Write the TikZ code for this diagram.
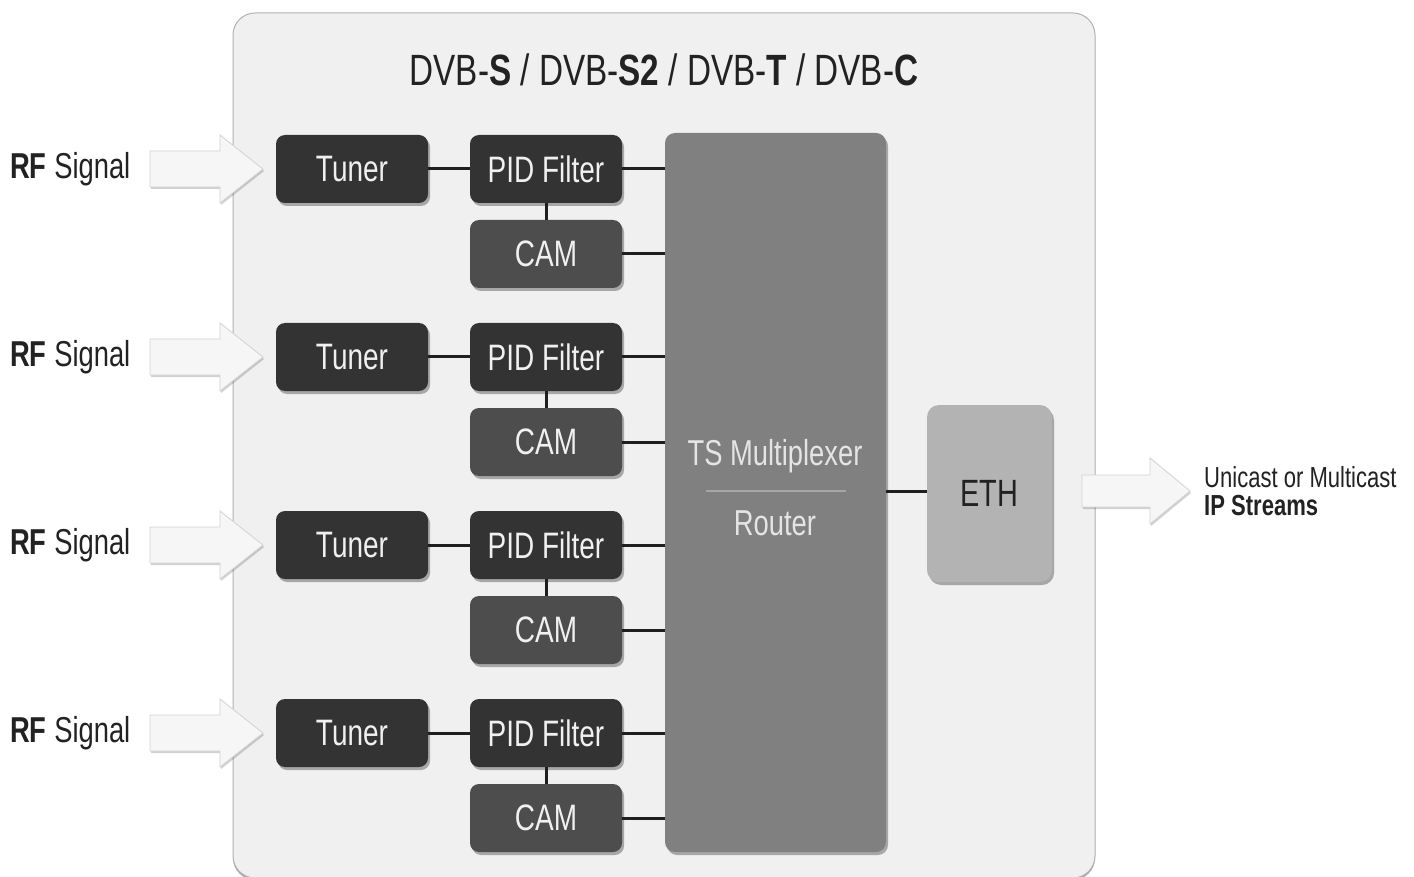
\documentclass[tikz,border=0pt]{standalone}
\usepackage{fontspec}
\setmainfont{Liberation Sans}[FakeStretch=0.76]
\usetikzlibrary{shadows}
\definecolor{panelbg}{HTML}{F0F0F0}
\definecolor{darkbox}{HTML}{333333}
\definecolor{cambox}{HTML}{4D4D4D}
\definecolor{muxbox}{HTML}{808080}
\definecolor{ethbox}{HTML}{B3B3B3}
\definecolor{boxtext}{HTML}{F0F0F0}
\definecolor{muxtextc}{HTML}{E4E4E4}
\definecolor{arrowfill}{HTML}{F6F6F6}
\definecolor{arrowline}{HTML}{D2D2D2}
\definecolor{labeltext}{HTML}{222222}
\tikzset{
  softshadow/.style={drop shadow={shadow xshift=2pt,shadow yshift=-3pt,opacity=0.30,fill=black}},
  darknode/.style={rectangle,rounded corners=9pt,fill=darkbox,text=boxtext,
    minimum width=152pt,minimum height=68pt,inner sep=0pt,softshadow,
    font=\fontsize{36.8}{42}\selectfont},
  camnode/.style={darknode,fill=cambox},
  muxnode/.style={rectangle,rounded corners=10pt,fill=muxbox,minimum width=221pt,
    minimum height=719pt,inner sep=0pt,softshadow},
  ethnode/.style={rectangle,rounded corners=12pt,fill=ethbox,text=labeltext,
    minimum width=125pt,minimum height=177pt,inner sep=0pt,softshadow,
    font=\fontsize{38}{42}\selectfont},
  conn/.style={line width=3pt,draw=black!88},
  blockarrow/.style={fill=arrowfill,draw=arrowline,line width=0.8pt,
    drop shadow={shadow xshift=1pt,shadow yshift=-2pt,opacity=0.18,fill=black}},
  rflabel/.style={anchor=west,text=labeltext,inner sep=0pt,font=\fontsize{36}{42}\selectfont},
  muxtext/.style={text=muxtextc,inner sep=0pt,font=\fontsize{36}{42}\selectfont}
}
\begin{document}
\begin{tikzpicture}[x=1pt,y=-1pt]
\useasboundingbox (0,0) rectangle (1414,877);
\fill[white] (0,0) rectangle (1414,877);
% outer panel
\path[fill=panelbg,draw=black!30,line width=1pt,rounded corners=22pt,
  drop shadow={shadow xshift=0pt,shadow yshift=-2pt,opacity=0.35,fill=black}]
  (233,13) rectangle (1095,878);
\node[text=labeltext,inner sep=0pt,font=\fontsize{43.8}{48}\selectfont] (title) at (664,70)
  {DVB-\textbf{S} / DVB-\textbf{S2} / DVB-\textbf{T} / DVB-\textbf{C}};
% multiplexer
\node[muxnode] (mux) at (775.5,492.5) {};
\node[muxtext] (muxa) at (775,456) {TS Multiplexer};
\node[muxtext] (muxb) at (775,523) {Router};
\draw[line width=2pt,draw=black!35] (706,491) -- (846,491);
% eth
\node[ethnode] (eth) at (989.5,493.5) {ETH};
\draw[conn] (mux.east |- 0,491) -- (eth.west |- 0,491);
% rows
\foreach \i/\y in {1/169,2/357,3/545,4/733}{
  \node[darknode] (tuner\i) at (352,\y) {Tuner};
  \node[darknode] (pid\i) at (546,\y) {PID Filter};
  \node[camnode] (cam\i) at (546,\y+85) {CAM};
  \draw[conn] (tuner\i.east) -- (pid\i.west);
  \draw[conn] (pid\i.south) -- (cam\i.north);
  \draw[conn] (pid\i.east) -- (pid\i.east -| mux.west);
  \draw[conn] (cam\i.east) -- (cam\i.east -| mux.west);
  \path[blockarrow] (150,\y-18) -- (220,\y-18) -- (220,\y-34) -- (263,\y) --
    (220,\y+34) -- (220,\y+18) -- (150,\y+18) -- cycle;
  \node[rflabel] (rf\i) at (10,\y) {\textbf{RF} Signal};
}
% output arrow
\path[blockarrow] (1082,475) -- (1150,475) -- (1150,458) -- (1190,491) --
  (1150,524) -- (1150,507) -- (1082,507) -- cycle;
\node[anchor=west,align=left,text=labeltext,inner sep=0pt,
  font=\fontsize{29}{28}\selectfont] (out) at (1204,491)
  {Unicast or Multicast\\\textbf{IP Streams}};
\end{tikzpicture}
\end{document}
